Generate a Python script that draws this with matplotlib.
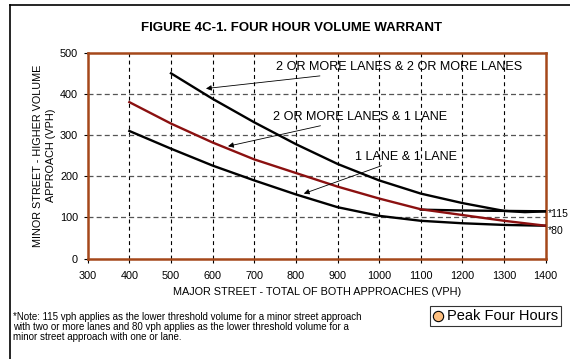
import matplotlib.pyplot as plt
from matplotlib.lines import Line2D

plt.rcParams['font.family'] = ['Liberation Sans', 'DejaVu Sans']

# warrant curves, minor street vph vs major street total vph
x_2_2 = [500, 600, 700, 800, 900, 1000, 1100, 1200, 1300, 1350, 1400]
y_2_2 = [450, 388, 331, 278, 230, 190, 158, 135, 116, 113, 115]

x_2_1 = [400, 500, 600, 700, 800, 900, 1000, 1100, 1200, 1300, 1400]
y_2_1 = [380, 328, 282, 241, 208, 175, 146, 120, 106, 92, 80]

x_1_1 = [400, 500, 600, 700, 800, 900, 1000, 1100, 1200, 1300, 1400]
y_1_1 = [310, 267, 226, 190, 156, 125, 104, 92, 86, 82, 80]

# lower threshold segment for 2+ lanes
x_thr = [1100, 1200, 1300, 1400]
y_thr = [119, 117, 116, 115]

x_ticks = list(range(300, 1401, 100))
y_ticks = [0, 100, 200, 300, 400, 500]

curve_labels = ["2 OR MORE LANES & 2 OR MORE LANES",
                "2 OR MORE LANES & 1 LANE",
                "1 LANE & 1 LANE"]
label_pos = [(752, 465), (745, 344), (942, 247)]
arrow_tip = [(584, 413), (637, 273), (819, 158)]

fig = plt.figure(figsize=(5.7, 3.59), dpi=100)
ax = fig.add_axes([0.1539, 0.2794, 0.8035, 0.5738])

ax.plot(x_2_2, y_2_2, color="black", lw=1.7, zorder=4)
ax.plot(x_thr, y_thr, color="black", lw=1.7, zorder=4)
ax.plot(x_2_1, y_2_1, color="#8b1010", lw=1.7, zorder=4)
ax.plot(x_1_1, y_1_1, color="black", lw=1.7, zorder=3)

ax.set_xlim(300, 1400)
ax.set_ylim(0, 500)
ax.set_xticks(x_ticks)
ax.set_yticks(y_ticks)
ax.tick_params(labelsize=7.8, length=3, width=0.8)
ax.tick_params(axis="x", pad=6)
ax.tick_params(axis="y", pad=4)

for x in x_ticks[1:-1]:
    ax.axvline(x, color="black", lw=0.8, ls=(0, (3.5, 3)), zorder=1)
for y in y_ticks[1:-1]:
    ax.axhline(y, color="#555555", lw=0.9, ls=(0, (4, 2.5)), zorder=1)

for s in ax.spines.values():
    s.set_color("#a5481a")
    s.set_linewidth(1.8)

ax.set_xlabel("MAJOR STREET - TOTAL OF BOTH APPROACHES (VPH)", fontsize=7.8, labelpad=4)
ax.set_ylabel("MINOR STREET - HIGHER VOLUME\nAPPROACH (VPH)", fontsize=7.8, labelpad=3,
              linespacing=1.3)

for txt, (tx, ty), (px, py) in zip(curve_labels, label_pos, arrow_tip):
    ax.annotate(txt, xy=(px, py), xytext=(tx, ty), ha="left", va="center",
                fontsize=9.1, zorder=5,
                arrowprops=dict(arrowstyle="-|>", color="black", lw=0.6,
                                mutation_scale=8, shrinkA=0, shrinkB=0))

ax.annotate("*115", xy=(1400, 115), xytext=(1.5, -2), textcoords="offset points",
            ha="left", va="center", fontsize=7.5, annotation_clip=False)
ax.annotate("*80", xy=(1400, 80), xytext=(1.5, -4), textcoords="offset points",
            ha="left", va="center", fontsize=7.5, annotation_clip=False)

fig.text(0.512, 0.921, "FIGURE 4C-1. FOUR HOUR VOLUME WARRANT", ha="center", va="center",
         fontsize=9.5, fontweight="bold")

fig.text(0.022, 0.088,
         "*Note: 115 vph applies as the lower threshold volume for a minor street approach\n"
         "with two or more lanes and 80 vph applies as the lower threshold volume for a\n"
         "minor street approach with one or lane.",
         ha="left", va="center", fontsize=7.0, linespacing=1.0)

ax.scatter([], [], s=55, facecolor="#ffc080", edgecolor="black", linewidth=0.8,
           label="Peak Four Hours")
leg = fig.legend(loc="center", bbox_to_anchor=(0.8695, 0.12), fontsize=10.5, frameon=True,
                 fancybox=False, edgecolor="black", handlelength=0.6, handletextpad=0.3,
                 borderpad=0.22, borderaxespad=0)
leg.get_frame().set_linewidth(0.8)

# page border
fig.add_artist(Line2D([0.017, 0.017], [0, 0.987], color="black", lw=1.2))
fig.add_artist(Line2D([0.017, 1.0], [0.987, 0.987], color="black", lw=1.2))

fig.savefig("out.png", dpi=100)
